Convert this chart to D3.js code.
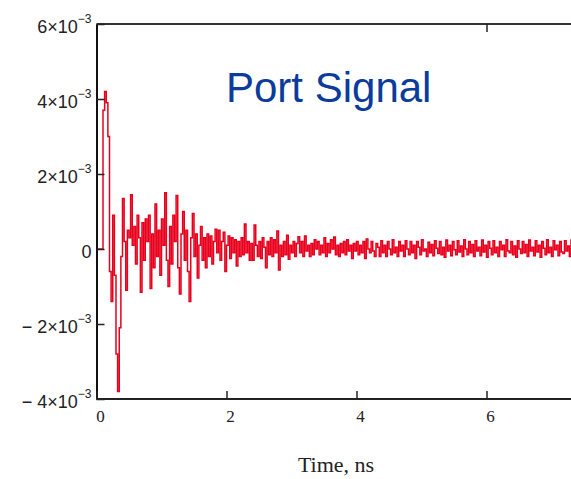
<!DOCTYPE html>
<html>
<head>
<meta charset="utf-8">
<script src="https://cdn.jsdelivr.net/npm/d3@7"></script>
<style>
  body { margin: 0; background: #fff; }
  svg { display: block; }
</style>
</head>
<body>
<div id="chart"></div>
<script>
var width = 571,
    height = 479;

// port signal samples, in units of 1e-3, one every dt ns
var dt = 0.025;
var signal = [
  0, 0, 0, 0, 3.7, 4.2, 3.9, 3.0, -0.6, -1.4,
  0.9, -0.7, -2.8, -3.8, -2.1, -0.2, 1.35, 0.2, -1.1, 0.5,
  0.3, 1.45, 0.1, 0.6, -0.4, 0.9, 0.3, -1.15, 0.7, -0.3,
  0.8, 0.2, 0.9, -1.05, 0.4, -0.5, 1.2, -0.2, 0.5, -0.7,
  0.8, 0.1, 1.5, -0.3, -1.0, 0.6, -0.4, 0.9, 0.2, 1.43,
  -0.5, -1.2, 0.4, 1.0, -0.3, 0.5, -0.6, -1.4, 0.3, 0.95,
  -0.2, 0.4, -0.77, 0.1, 0.6, -0.3, 0.3, -0.5, 0.4, -0.2,
  0.35, -0.4, 0.2, 0.53, -0.1, 0.5, -0.3, 0.2, 0.45, -0.6,
  0.1, 0.35, -0.25, 0.3, -0.1, 0.25, -0.45, 0.2, -0.2, 0.3,
  -0.15, 0.67, -0.1, 0.2, -0.3, 0.15, -0.3, 0.64, 0.1, -0.2,
  0.2, -0.25, 0.3, 0.05, -0.5, 0.2, -0.15, 0.3, -0.2, 0.25,
  -0.1, 0.48, -0.56, 0.1, -0.2, 0.2, -0.15, 0.37, -0.27, 0.1,
  -0.1, 0.2, -0.2, 0.15, 0.33, -0.1, 0.2, -0.2, 0.35, -0.05,
  0.1, -0.2, 0.15, -0.15, 0.25, 0.0, 0.2, -0.15, 0.1, -0.1,
  0.3, -0.2, 0.15, -0.1, 0.25, 0.0, 0.32, -0.15, 0.1, -0.2,
  0.15, -0.1, 0.2, -0.15, 0.25, -0.05, 0.1, -0.25, 0.15, -0.05,
  0.2, -0.15, 0.1, -0.1, 0.2, -0.25, 0.27, 0.0,
  -0.10, 0.20, -0.05, -0.20, 0.15, 0.05, -0.20, 0.22, -0.10, 0.10,
  -0.20, 0.20, 0.00, -0.15, 0.25, -0.10, 0.05, -0.20, 0.20, -0.05,
  0.10, -0.20, 0.22, 0.00, -0.15, 0.20, -0.10, 0.10, -0.25, 0.20,
  0.05, -0.15, 0.25, -0.05, 0.00, -0.20, 0.18, -0.10, 0.12, -0.18,
  0.22, 0.02, -0.12, 0.20, -0.15, 0.05, -0.22, 0.24, -0.05, 0.10,
  -0.18, 0.20, -0.02, -0.15, 0.22, -0.08, 0.08, -0.20, 0.25, 0.00,
  -0.15, 0.20, -0.10, 0.12, -0.20, 0.22, -0.05, 0.05, -0.18, 0.24,
  -0.08, 0.10, -0.22, 0.20, 0.02, -0.15, 0.22, -0.10, 0.05, -0.20,
  0.20, -0.02, 0.10, -0.20, 0.25, -0.05, -0.10, 0.20, -0.15, 0.08,
  -0.22, 0.22, 0.00, -0.12, 0.20, -0.10, 0.12, -0.20, 0.24, -0.05,
  0.05, -0.18, 0.22, -0.08, 0.10, -0.22, 0.20, 0.02, -0.15, 0.25,
  -0.10, 0.05, -0.20, 0.22, -0.02, 0.10, -0.18, 0.20, -0.08, -0.12,
  0.22, -0.05, 0.08, -0.20, 0.24, 0.00, -0.15, 0.20, -0.10, 0.12,
  -0.20, 0.22, -0.05
];

var xTicks = [0, 2, 4, 6];
var xTopTicks = [6];
var yTicks = [-4e-3, -2e-3, 0, 2e-3, 4e-3, 6e-3];
var title = "Port Signal";
var xTitle = "Time, ns";

var svg = d3.select("#chart")
    .append("svg")
    .attr("width", width)
    .attr("height", height);

svg.append("rect")
    .attr("width", width)
    .attr("height", height)
    .style("fill", "white");

// plot runs past the right edge of the window
var x = d3.scaleLinear().domain([0, 8]).range([96.5, 616.5]);
var y = d3.scaleLinear().domain([-4e-3, 6e-3]).range([399, 24]);

svg.append("clipPath")
    .attr("id", "plotclip")
  .append("rect")
    .attr("x", x(0))
    .attr("y", y(6e-3))
    .attr("width", x(8) - x(0))
    .attr("height", y(-4e-3) - y(6e-3));

var line = d3.line()
    .x(function(d, i) { return x(i * dt); })
    .y(function(d) { return y(d * 1e-3); })
    .curve(d3.curveStepAfter);

svg.append("path")
    .datum(signal)
    .attr("clip-path", "url(#plotclip)")
    .attr("d", line)
    .style("fill", "none")
    .style("stroke", "#e8001c")
    .style("stroke-width", 1.5);

// frame
svg.append("line")
    .attr("x1", x(0)).attr("x2", width + 10)
    .attr("y1", y(6e-3)).attr("y2", y(6e-3))
    .style("stroke", "#333").style("stroke-width", 2);

var yAxis = svg.append("g")
    .attr("transform", "translate(" + x(0) + ",0)")
    .call(d3.axisLeft(y).tickValues(yTicks).tickSizeInner(-8).tickSizeOuter(0).tickFormat(""));

var xAxis = svg.append("g")
    .attr("transform", "translate(0," + y(-4e-3) + ")")
    .call(d3.axisBottom(x).tickValues(xTicks).tickSizeInner(-8).tickSizeOuter(0).tickFormat(""));

var xTop = svg.append("g")
    .attr("transform", "translate(0," + y(6e-3) + ")")
    .call(d3.axisTop(x).tickValues(xTopTicks).tickSizeInner(-8).tickSizeOuter(0).tickFormat(""));

xTop.select(".domain").remove();
xAxis.select(".domain")
    .attr("d", "M" + x(0) + ",0H" + (width + 10))
    .style("stroke", "#222").style("stroke-width", 2);
yAxis.select(".domain")
    .style("stroke", "#111").style("stroke-width", 2);
svg.selectAll(".tick line").style("stroke", "#222").style("stroke-width", 1.5);

// y labels, Mathcad style a×10^-3
yTicks.forEach(function(v) {
    var t = svg.append("text")
        .attr("x", x(0) - 5)
        .attr("y", y(v) + 9)
        .attr("text-anchor", "end")
        .style("font-family", "'Liberation Sans', Arial, sans-serif")
        .style("font-size", "18px")
        .style("fill", "#222");
    if (v === 0) {
        t.text("0");
        return;
    }
    var m = Math.round(v / 1e-3);
    t.append("tspan").text((m < 0 ? "\u2212 " : "") + Math.abs(m) + "\u00d710");
    t.append("tspan")
        .attr("dy", -10)
        .style("font-size", "12px")
        .text("\u22123");
});

// x labels
xTicks.forEach(function(v) {
    svg.append("text")
        .attr("x", x(v) + 4)
        .attr("y", 422)
        .attr("text-anchor", "middle")
        .style("font-family", "'Liberation Serif', 'Times New Roman', serif")
        .style("font-size", "17px")
        .style("fill", "#222")
        .text(v);
});

svg.append("text")
    .attr("x", 336)
    .attr("y", 472)
    .attr("text-anchor", "middle")
    .style("font-family", "'Liberation Serif', 'Times New Roman', serif")
    .style("font-size", "22px")
    .style("fill", "#222")
    .text(xTitle);

svg.append("text")
    .attr("x", 226)
    .attr("y", 102)
    .style("font-family", "'Liberation Sans', Arial, sans-serif")
    .style("font-size", "42px")
    .style("fill", "#0b3c9c")
    .text(title);
</script>
</body>
</html>
